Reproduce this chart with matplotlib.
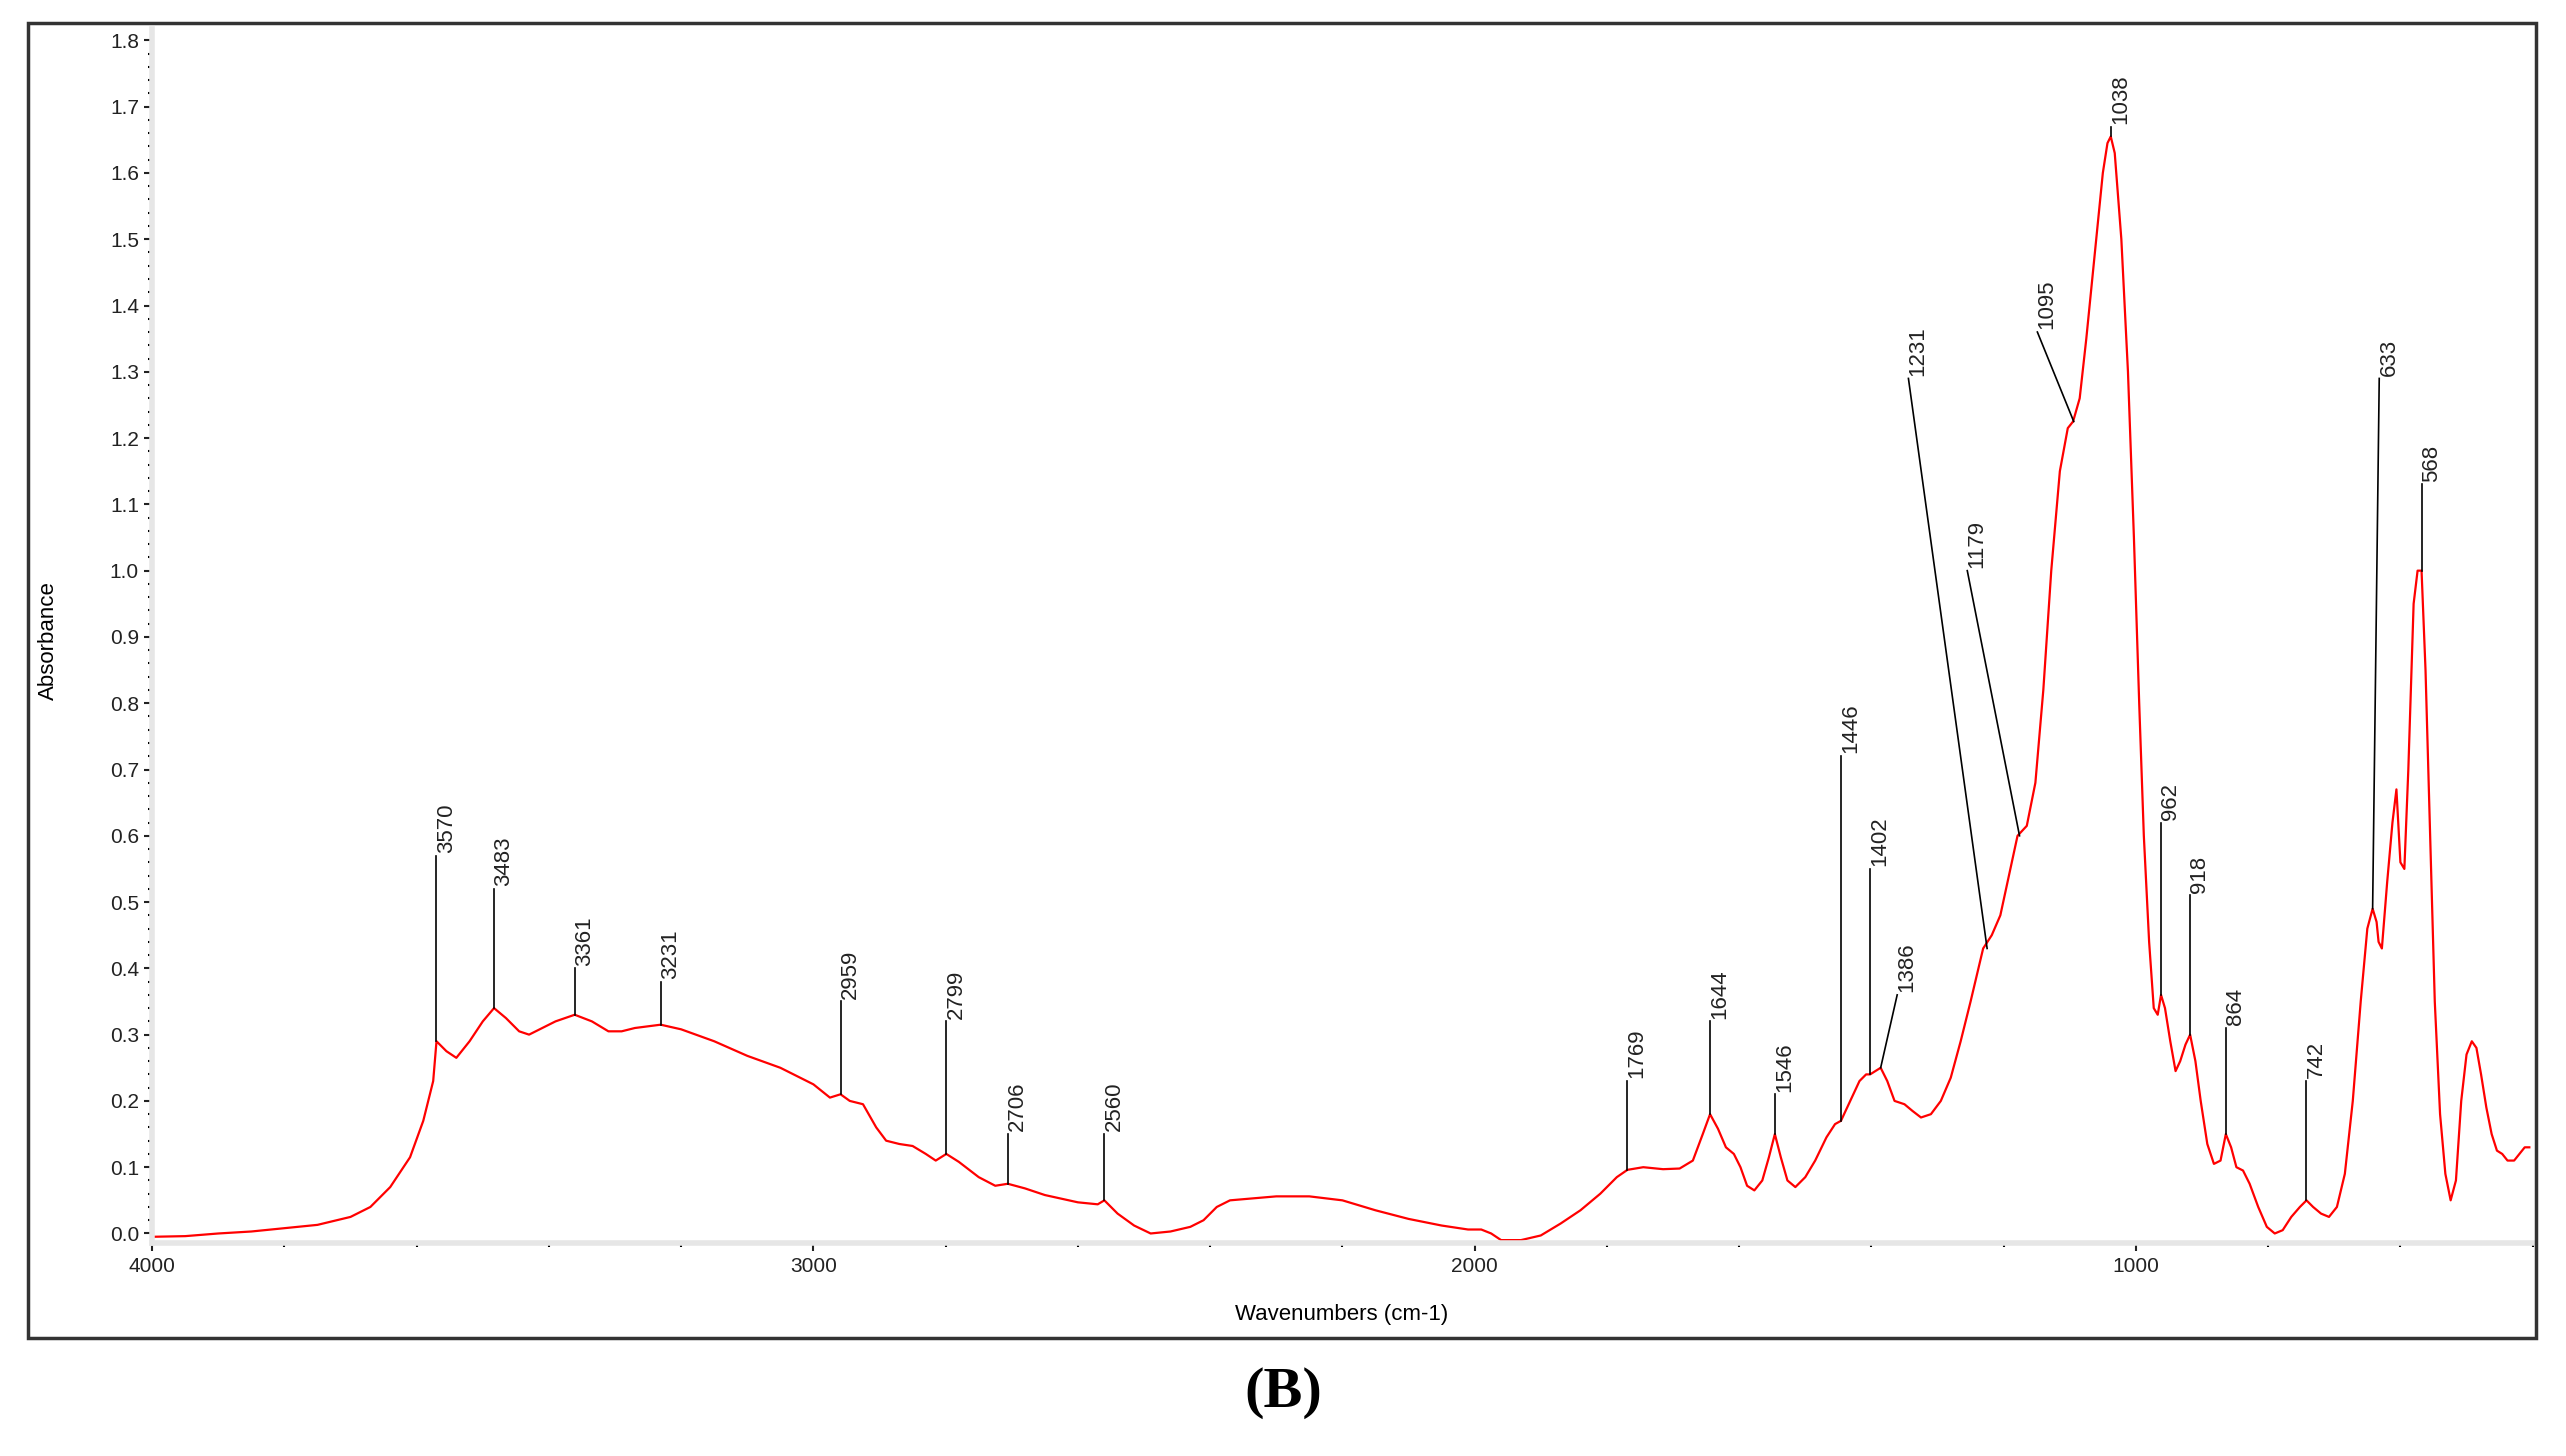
import matplotlib
matplotlib.use('Agg')
import matplotlib.pyplot as plt
from matplotlib.patches import Rectangle
from matplotlib.ticker import MultipleLocator, FormatStrFormatter

plt.rcParams['font.family'] = ['Liberation Sans', 'DejaVu Sans']

# spectrum: (wavenumber, absorbance)
spectrum = [
    (4000, -0.005), (3950, -0.004), (3900, 0.0), (3850, 0.003), (3800, 0.008), (3750, 0.013),
    (3700, 0.025), (3670, 0.04), (3640, 0.07), (3610, 0.115), (3590, 0.17), (3575, 0.23),
    (3570, 0.29), (3555, 0.275), (3540, 0.265), (3520, 0.29), (3500, 0.32), (3483, 0.34),
    (3465, 0.325), (3445, 0.305), (3430, 0.30), (3410, 0.31), (3390, 0.32), (3361, 0.33),
    (3335, 0.32), (3310, 0.305), (3290, 0.305), (3270, 0.31), (3231, 0.315), (3200, 0.308),
    (3150, 0.29), (3100, 0.268), (3050, 0.25), (3000, 0.225), (2975, 0.205), (2959, 0.21),
    (2945, 0.20), (2925, 0.195), (2905, 0.16), (2890, 0.14), (2870, 0.135), (2850, 0.132),
    (2830, 0.12), (2815, 0.11), (2799, 0.12), (2780, 0.108), (2750, 0.085), (2725, 0.072),
    (2706, 0.075), (2680, 0.068), (2650, 0.058), (2600, 0.047), (2570, 0.044), (2560, 0.05),
    (2540, 0.03), (2515, 0.012), (2490, 0.0), (2460, 0.003), (2430, 0.01), (2410, 0.02),
    (2390, 0.04), (2370, 0.05), (2300, 0.056), (2250, 0.056), (2200, 0.05), (2150, 0.035),
    (2100, 0.022), (2050, 0.012), (2010, 0.006), (1990, 0.006), (1975, 0.0), (1960, -0.01),
    (1930, -0.01), (1900, -0.003), (1870, 0.015), (1840, 0.035), (1810, 0.06), (1785, 0.085),
    (1769, 0.096), (1745, 0.1), (1715, 0.097), (1690, 0.098), (1670, 0.11), (1655, 0.15),
    (1644, 0.18), (1632, 0.158), (1620, 0.13), (1608, 0.12), (1598, 0.1), (1588, 0.072),
    (1577, 0.065), (1565, 0.08), (1555, 0.115), (1546, 0.15), (1537, 0.115), (1527, 0.08),
    (1515, 0.07), (1500, 0.085), (1485, 0.11), (1468, 0.145), (1455, 0.165), (1446, 0.17),
    (1432, 0.2), (1418, 0.23), (1408, 0.24), (1402, 0.24), (1394, 0.245), (1386, 0.25),
    (1376, 0.23), (1365, 0.2), (1350, 0.195), (1338, 0.185), (1325, 0.175), (1310, 0.18),
    (1295, 0.2), (1280, 0.235), (1265, 0.29), (1250, 0.35), (1231, 0.43), (1218, 0.45),
    (1205, 0.48), (1192, 0.54), (1179, 0.60), (1165, 0.615), (1152, 0.68), (1140, 0.82),
    (1128, 1.0), (1115, 1.15), (1103, 1.215), (1095, 1.225), (1085, 1.26), (1075, 1.35),
    (1062, 1.48), (1050, 1.6), (1043, 1.645), (1038, 1.655), (1032, 1.63), (1022, 1.5),
    (1012, 1.3), (1003, 1.05), (995, 0.8), (988, 0.6), (980, 0.44), (973, 0.34), (967, 0.33),
    (962, 0.36), (956, 0.34), (948, 0.29), (940, 0.245), (933, 0.26), (925, 0.285), (918, 0.30),
    (910, 0.26), (902, 0.2), (892, 0.135), (882, 0.105), (872, 0.11), (864, 0.15), (856, 0.13),
    (848, 0.1), (838, 0.095), (828, 0.075), (815, 0.04), (802, 0.01), (790, 0.0), (778, 0.005),
    (765, 0.025), (752, 0.04), (742, 0.05), (732, 0.04), (720, 0.03), (708, 0.025), (696, 0.04),
    (684, 0.09), (672, 0.2), (660, 0.35), (650, 0.46), (642, 0.49), (636, 0.47), (633, 0.44),
    (628, 0.43), (620, 0.53), (612, 0.62), (606, 0.67), (600, 0.56), (594, 0.55), (588, 0.7),
    (580, 0.95), (574, 1.0), (568, 1.0), (562, 0.85), (555, 0.6), (548, 0.35), (540, 0.18),
    (532, 0.09), (524, 0.05), (516, 0.08), (508, 0.2), (500, 0.27), (492, 0.29), (485, 0.28),
    (478, 0.24), (470, 0.19), (462, 0.15), (454, 0.125), (446, 0.12), (438, 0.11), (428, 0.11),
    (420, 0.12), (412, 0.13), (405, 0.13),
]
wavenumber = [p[0] for p in spectrum]
absorbance = [p[1] for p in spectrum]

# peak labels: label, curve point (wn, A), line top (wn, A)
peak_labels = ['3570', '3483', '3361', '3231', '2959', '2799', '2706', '2560', '1769', '1644',
               '1546', '1446', '1402', '1386', '1231', '1179', '1095', '1038', '962', '918',
               '864', '742', '633', '568']
peak_base = [(3570, 0.29), (3483, 0.34), (3361, 0.33), (3231, 0.315), (2959, 0.21), (2799, 0.12),
             (2706, 0.075), (2560, 0.05), (1769, 0.096), (1644, 0.18), (1546, 0.15), (1446, 0.17),
             (1402, 0.24), (1386, 0.25), (1225, 0.43), (1176, 0.60), (1094, 1.225), (1038, 1.655),
             (962, 0.36), (918, 0.30), (864, 0.15), (742, 0.05), (642, 0.49), (568, 1.0)]
peak_top = [(3570, 0.57), (3483, 0.52), (3361, 0.40), (3231, 0.38), (2959, 0.35), (2799, 0.32),
            (2706, 0.15), (2560, 0.15), (1769, 0.23), (1644, 0.32), (1546, 0.21), (1446, 0.72),
            (1402, 0.55), (1361, 0.36), (1344, 1.29), (1255, 1.0), (1149, 1.36), (1038, 1.67),
            (962, 0.62), (918, 0.51), (864, 0.31), (742, 0.23), (632, 1.29), (568, 1.13)]

fig = plt.figure(figsize=(25.66, 14.56), dpi=100)
fig.patches.append(Rectangle((0.0108, 0.081), 0.9777, 0.903, transform=fig.transFigure,
                             fill=False, edgecolor='#333333', linewidth=2.5))

ax = fig.add_axes([0.0593, 0.146, 0.9277, 0.834])
ax.plot(wavenumber, absorbance, color='red', linewidth=1.6, clip_on=False)

for lab, (bx, by), (tx, ty) in zip(peak_labels, peak_base, peak_top):
    ax.plot([bx, tx], [by, ty], color='black', linewidth=1.2)
    ax.annotate(lab, xy=(tx, ty), xytext=(7, 2), textcoords='offset points',
                rotation=90, ha='center', va='bottom', fontsize=16, color='#222222')

ax.set_xlim(4000, 400)
ax.set_ylim(-0.015, 1.817)
ax.xaxis.set_major_locator(MultipleLocator(1000))
ax.xaxis.set_minor_locator(MultipleLocator(200))
ax.yaxis.set_major_locator(MultipleLocator(0.1))
ax.yaxis.set_minor_locator(MultipleLocator(0.02))
ax.tick_params(axis='both', which='major', labelsize=15, length=6, width=1.5, colors='#222222')
ax.tick_params(axis='both', which='minor', length=3, width=1.5)
ax.yaxis.set_major_formatter(FormatStrFormatter('%.1f'))
ax.xaxis.set_major_formatter(FormatStrFormatter('%d'))
for s in ['top', 'right']:
    ax.spines[s].set_visible(False)
for s in ['left', 'bottom']:
    ax.spines[s].set_color('#e6e6e6')
    ax.spines[s].set_linewidth(4)

fig.text(0.019, 0.56, 'Absorbance', rotation=90, ha='center', va='center', fontsize=16)
fig.text(0.523, 0.097, 'Wavenumbers (cm-1)', ha='center', va='center', fontsize=16)
fig.text(0.5, 0.043, '(B)', ha='center', va='center', fontsize=42, fontweight='bold',
         family='Liberation Serif')

fig.savefig('out.png', dpi=100)
